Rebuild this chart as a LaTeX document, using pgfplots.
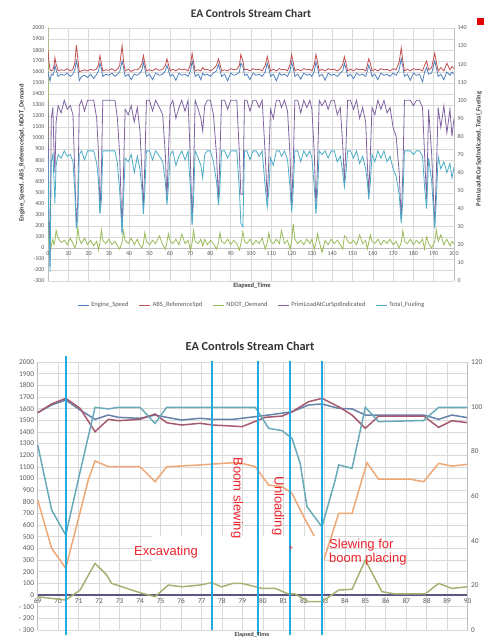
\documentclass[border=0pt]{standalone}
\usepackage{pgfplots}
\pgfplotsset{compat=1.18}
\usepackage{pgfplotstable}
\usepackage{fontspec}
\setmainfont{Carlito}
\newfontfamily\arialf{Liberation Sans}
\definecolor{cES}{HTML}{4F81BD}
\definecolor{cABS}{HTML}{C0504D}
\definecolor{cND}{HTML}{9BBB59}
\definecolor{cPL}{HTML}{8064A2}
\definecolor{cTF}{HTML}{4BACC6}
\definecolor{gridc}{HTML}{D9D9D9}
\definecolor{axc}{HTML}{BFBFBF}
\definecolor{tickc}{HTML}{595959}
\definecolor{bMauve}{RGB}{165,90,112}
\definecolor{bBlue}{RGB}{100,130,170}
\definecolor{bTeal}{RGB}{105,170,185}
\definecolor{bOrange}{RGB}{238,168,118}
\definecolor{bOlive}{RGB}{165,178,115}
\definecolor{bZero}{RGB}{95,85,130}
\definecolor{vline}{RGB}{35,170,225}
\definecolor{annot}{RGB}{235,35,45}

\pgfplotstableread{
t es abs nd pl tf
0 1600 1800 2100 100 72
0.4 1560 1700 80 40 30
1.0 1520 1620 -40 8 5
1.6 1580 1610 20 90 66
2.4 1570 1620 80 96 70
3.0 1600 1660 30 70 55
3.4 1660 1730 60 60 43
4.0 1620 1670 160 88 64
5.0 1560 1610 90 97 70
6.5 1580 1620 50 93 68
8.0 1570 1615 70 100 72
9.5 1590 1630 30 95 69
11.0 1560 1610 90 97 70
12.3 1580 1625 40 92 66
13.2 1620 1680 0 60 50
14.0 1700 1845 40 30 29
14.7 1640 1720 190 45 35
15.4 1520 1600 80 97 70
16.5 1560 1610 40 100 72
18.0 1570 1620 90 94 67
19.5 1550 1610 30 100 72
21.0 1580 1625 70 100 72
22.5 1540 1615 20 100 72
24.0 1580 1630 60 90 65
24.9 1610 1670 -20 70 55
25.6 1680 1750 50 38 37
26.3 1630 1680 165 60 45
27.0 1560 1610 70 100 72
28.5 1580 1620 40 100 72
30.0 1570 1615 80 100 72
31.5 1590 1630 30 100 72
33.0 1560 1610 60 100 72
34.2 1580 1625 20 90 65
35.3 1600 1660 -10 70 50
36.5 1700 1840 50 27 26
37.2 1640 1700 150 60 45
38.0 1560 1610 70 95 68
39.5 1580 1625 40 92 66
41.0 1530 1605 90 97 70
42.5 1580 1620 30 88 60
44.0 1570 1620 80 96 69
45.3 1590 1640 20 83 62
46.3 1620 1680 0 60 50
47.0 1690 1750 40 40 37
47.7 1630 1680 140 65 50
48.5 1560 1610 60 100 72
50.0 1580 1620 30 100 72
51.5 1530 1610 70 94 67
53.0 1590 1630 40 100 72
54.9 1570 1615 110 96 69
56.5 1580 1625 30 92 66
57.8 1610 1660 -10 70 55
58.6 1660 1720 50 45 42
59.3 1620 1670 130 70 52
60.2 1560 1610 60 97 70
61.5 1580 1625 40 100 72
63.0 1525 1610 80 90 64
64.5 1590 1630 30 96 69
65.9 1570 1620 125 100 72
67.5 1580 1625 40 94 67
69.0 1560 1610 70 100 72
70.2 1610 1670 -20 65 50
71.0 1700 1770 50 32 31
71.7 1640 1690 160 60 45
72.5 1560 1610 60 100 72
74.0 1580 1620 40 95 68
75.3 1530 1610 80 90 64
76.2 1590 1640 20 83 57
77.2 1570 1620 80 97 70
78.5 1580 1625 30 100 72
80.0 1560 1610 70 100 72
81.5 1590 1630 40 92 66
83.0 1610 1660 -10 70 55
84.0 1670 1720 50 44 42
84.7 1620 1670 140 70 52
85.5 1560 1610 60 100 72
87.0 1580 1620 40 100 72
88.5 1520 1610 80 95 68
90.0 1590 1630 30 100 72
91.5 1570 1620 70 100 72
93.0 1580 1625 40 100 72
94.3 1600 1660 -20 70 50
95.0 1680 1760 40 48 32
96.0 1650 1700 150 48 30
96.8 1570 1620 60 100 72
98.0 1580 1625 40 100 72
99.5 1530 1610 80 94 67
101.0 1590 1630 30 100 72
102.5 1570 1620 70 100 72
104.0 1580 1625 40 96 69
105.5 1560 1610 90 100 72
107.0 1600 1660 -10 70 52
108.0 1680 1740 50 45 41
108.8 1630 1680 140 68 50
109.6 1560 1610 60 95 68
111.0 1580 1625 40 90 64
112.5 1520 1610 80 100 72
114.0 1590 1630 40 100 72
115.0 1570 1620 160 96 69
116.5 1580 1625 40 100 72
118.0 1560 1610 70 94 67
119.2 1610 1670 -10 70 52
120.0 1690 1760 60 40 38
120.8 1640 1690 220 65 50
121.6 1560 1610 80 100 72
123.0 1580 1625 40 100 72
124.5 1535 1610 70 93 66
126.0 1590 1630 30 100 72
127.5 1570 1620 80 96 69
129.0 1580 1625 40 100 72
130.0 1560 1610 80 95 68
131.2 1610 1670 -10 70 52
132.0 1690 1760 50 40 37
132.8 1640 1690 130 65 50
133.6 1560 1610 60 100 72
135.0 1580 1625 -40 97 70
136.5 1525 1610 70 100 72
138.0 1590 1630 30 95 68
139.5 1570 1620 80 100 72
141.0 1580 1625 40 100 72
142.5 1560 1610 70 92 66
144.0 1590 1630 30 96 69
145.2 1610 1670 -10 75 60
146.0 1680 1740 110 55 52
146.8 1630 1680 100 75 60
147.6 1560 1610 60 100 72
149.0 1580 1625 40 100 72
150.5 1540 1610 70 95 68
152.0 1590 1630 30 100 72
153.5 1570 1620 120 90 65
155.0 1580 1625 40 96 69
156.5 1560 1610 70 88 62
157.3 1610 1660 -10 65 55
158.0 1660 1720 50 48 45
158.8 1620 1680 120 70 55
159.6 1560 1610 60 96 70
161.0 1580 1625 40 92 66
162.5 1530 1610 80 100 72
164.0 1590 1630 30 95 68
165.5 1570 1620 70 100 72
167.0 1580 1625 40 93 66
168.5 1560 1610 80 96 69
170.0 1590 1630 30 85 62
171.5 1570 1620 60 80 58
173.0 1620 1690 0 60 48
174.0 1720 1820 50 34 32
174.8 1650 1700 160 60 45
175.6 1560 1610 60 100 72
177.0 1580 1625 40 100 72
178.5 1525 1610 80 100 72
180.0 1590 1630 30 97 70
181.5 1570 1620 70 100 72
183.0 1580 1625 40 100 72
184.5 1510 1610 80 96 69
185.5 1600 1660 -10 70 52
186.5 1640 1700 100 45 40
187.5 1580 1620 40 95 68
189.0 1590 1640 0 70 55
190.5 1700 1770 60 30 29
191.3 1640 1690 165 60 45
192.2 1560 1610 60 96 69
193.5 1580 1640 120 85 62
195.0 1530 1610 30 97 66
196.5 1600 1680 80 82 60
198.0 1570 1620 20 95 65
199.0 1600 1650 60 80 57
200.0 1580 1630 40 90 63
}\topdata

\begin{document}
\begin{tikzpicture}[x=1pt,y=1pt]
\path[use as bounding box] (0,0) rectangle (484,637);

% ===================== TOP CHART =====================
\begin{axis}[
  at={(48pt,356pt)}, anchor=south west,
  scale only axis, width=406pt, height=253pt,
  xmin=0, xmax=200, ymin=-300, ymax=2000,
  axis x line*=middle, axis y line*=left,
  hide obscured x ticks=false, hide obscured y ticks=false,
  xtick={0,10,...,200}, ytick={-300,-200,...,2000},
  grid=major, grid style={gridc, line width=0.5pt},
  axis line style={axc, line width=0.5pt},
  tick style={draw=none},
  ticklabel style={font=\fontsize{6}{7}\selectfont, text=tickc},
  /pgf/number format/assume math mode=true,
  /pgf/number format/1000 sep={},
]
\addplot[cND, line width=0.8pt] table[x=t,y=nd]{\topdata};
\addplot[cES, line width=0.8pt] table[x=t,y=es]{\topdata};
\addplot[cABS, line width=0.8pt] table[x=t,y=abs]{\topdata};
\end{axis}

\begin{axis}[
  at={(48pt,356pt)}, anchor=south west,
  scale only axis, width=406pt, height=253pt,
  xmin=0, xmax=200, ymin=0, ymax=140,
  axis x line=none, axis y line*=right,
  ytick={0,10,...,140},
  axis line style={axc, line width=0.5pt},
  tick style={draw=none},
  ticklabel style={font=\fontsize{6}{7}\selectfont, text=tickc},
  /pgf/number format/assume math mode=true,
  legend style={at={(0.502,-0.095)}, anchor=center, draw=none, fill=none,
    font=\fontsize{6.5}{7}\selectfont, text=tickc, legend columns=5,
    /tikz/every even column/.append style={column sep=8pt}},
  legend image code/.code={\draw[#1] (0pt,0pt) -- (11pt,0pt);},
]
\addlegendimage{cES, line width=1pt}\addlegendentry{Engine\_Speed}
\addlegendimage{cABS, line width=1pt}\addlegendentry{ABS\_ReferenceSpd}
\addlegendimage{cND, line width=1pt}\addlegendentry{NDOT\_Demand}
\addplot[cPL, line width=0.8pt] table[x=t,y=pl]{\topdata};
\addlegendentry{PrimLoadAtCurSpdIndicated}
\addplot[cTF, line width=0.8pt] table[x=t,y=tf]{\topdata};
\addlegendentry{Total\_Fueling}
\end{axis}

\node[font=\bfseries\fontsize{11.5}{13}\selectfont, text=black!80] at (251,623) {EA Controls Stream Chart};
\node[font=\bfseries\fontsize{6.5}{7}\selectfont, text=black!75, rotate=90] at (22,484) {Engine\_Speed, ABS\_ReferenceSpd, NDOT\_Demand};
\node[font=\bfseries\fontsize{6.5}{7}\selectfont, text=black!75, rotate=90] at (479,488) {PrimLoadAtCurSpdIndicated, Total\_Fueling};
\node[font=\bfseries\fontsize{6.5}{7}\selectfont, text=black!75] at (252,351) {Elapsed\_Time};
\fill[red!90!black] (477,612) rectangle (484,619);

% ===================== BOTTOM CHART =====================
\begin{axis}[
  at={(37.7pt,7pt)}, anchor=south west,
  scale only axis, width=430pt, height=268pt,
  xmin=69, xmax=90, ymin=-300, ymax=2000,
  axis x line*=middle, axis y line*=left,
  hide obscured x ticks=false, hide obscured y ticks=false,
  xtick={69,70,...,90}, ytick={-300,-200,...,2000},
  yticklabels={- 300,- 200,- 100,0,100,200,300,400,500,600,700,800,900,1000,1100,1200,1300,1400,1500,1600,1700,1800,1900,2000},
  grid=major, grid style={gridc, line width=0.6pt},
  axis line style={axc, line width=0.5pt},
  x axis line style={bZero, line width=1.6pt},
  tick style={draw=none},
  ticklabel style={font=\fontsize{7.4}{8}\selectfont, text=tickc},
  /pgf/number format/assume math mode=true,
  /pgf/number format/1000 sep={},
]
\addplot[bOlive, line width=1.5pt] coordinates {(69,-15) (70.37,-43) (71.07,43) (71.8,272) (72.37,172) (72.61,100) (73.35,57) (74.0,20) (74.73,-14) (75.38,86) (76.03,71) (76.92,86) (77.50,106) (77.98,71) (78.55,100) (78.98,100) (79.95,57) (80.60,57) (81.25,9) (81.57,9) (82.22,-57) (82.88,-57) (83.70,43) (84.35,49) (85.0,300) (85.81,29) (86.46,9) (87.92,9) (88.58,100) (89.23,57) (90,71)};
\addplot[bBlue, line width=1.5pt] coordinates {(69,1565) (69.68,1631) (70.37,1674) (71.07,1588) (71.8,1508) (72.45,1545) (72.94,1525) (74.0,1517) (74.73,1545) (75.3,1525) (76.03,1502) (76.92,1517) (77.56,1508) (78.54,1508) (78.98,1517) (80.28,1545) (81.42,1573) (82.23,1631) (82.88,1640) (83.70,1602) (84.35,1597) (85.0,1545) (85.65,1545) (87.85,1545) (88.58,1508) (89.23,1545) (90,1522)};
\addplot[bMauve, line width=1.5pt] coordinates {(69,1565) (69.68,1640) (70.37,1688) (71.07,1602) (71.8,1402) (72.45,1508) (72.94,1496) (74.0,1508) (74.73,1554) (75.3,1479) (76.03,1459) (76.92,1474) (77.56,1459) (78.54,1450) (78.98,1445) (80.11,1525) (80.93,1536) (81.42,1573) (82.23,1659) (82.88,1688) (83.70,1616) (84.35,1545) (85.0,1431) (85.65,1536) (87.85,1536) (88.58,1439) (89.23,1496) (90,1479)};
\end{axis}

\begin{axis}[
  at={(37.7pt,7pt)}, anchor=south west,
  scale only axis, width=430pt, height=268pt,
  xmin=69, xmax=90, ymin=0, ymax=120,
  axis x line=none, axis y line*=right,
  ytick={0,20,...,120},
  axis line style={axc, line width=0.5pt},
  tick style={draw=none},
  ticklabel style={font=\fontsize{7.4}{8}\selectfont, text=tickc},
  /pgf/number format/assume math mode=true,
  clip=false,
]
\addplot[bOrange, line width=1.5pt] coordinates {(69,58.2) (69.68,36.6) (70.37,27.6) (71.47,67.2) (71.8,75.7) (72.45,73.1) (74.0,73.1) (74.73,66.4) (75.3,73.1) (76.92,73.9) (77.56,74.3) (78.54,74.9) (78.98,74.6) (79.63,73.1) (80.28,64.9) (80.93,64.2) (81.42,61.2) (81.99,50.7) (82.48,42.5) (82.97,31.3) (83.70,52.2) (84.35,52.2) (85.08,74.9) (85.65,67.5) (87.2,67.5) (87.85,66.4) (88.58,74.6) (89.23,73.4) (90,74.2)};
\addplot[bTeal, line width=1.5pt] coordinates {(69,82.9) (69.68,53.8) (70.37,42.5) (70.98,67.2) (71.8,99.7) (72.45,99.0) (72.94,99.7) (74.0,99.7) (74.73,92.5) (75.3,99.7) (79.63,99.7) (80.28,90.3) (80.93,89.3) (81.42,85.8) (81.82,74.6) (82.15,55.2) (82.88,46.2) (83.53,67.2) (83.70,73.9) (84.35,72.4) (85.0,99.7) (85.65,93.3) (87.85,93.8) (88.58,99.7) (90,99.7)};
\fill[white] (axis cs:74.58,26.9) rectangle (axis cs:82.98,42.1);
\addplot[vline, line width=2.6pt] coordinates {(70.38,-2.2) (70.38,122.7)};
\addplot[vline, line width=2.6pt] coordinates {(77.51,0) (77.51,120.5)};
\addplot[vline, line width=2.6pt] coordinates {(79.76,-2.2) (79.76,120.6)};
\addplot[vline, line width=2.6pt] coordinates {(81.32,-2.2) (81.32,120.6)};
\addplot[vline, line width=2.6pt] coordinates {(82.88,-2.2) (82.88,120.6)};
\end{axis}

\node[font=\bfseries\fontsize{12.3}{14}\selectfont, text=black!80] at (250,291) {EA Controls Stream Chart};
\node[font=\bfseries\fontsize{6}{7}\selectfont, text=black!75] at (252,2) {Elapsed\_Time};

\node[font=\arialf\fontsize{13}{14}\selectfont, text=annot] at (166,85) {Excavating};
\node[font=\arialf\fontsize{13}{14}\selectfont, text=annot, rotate=-90] at (237,139) {Boom slewing};
\node[font=\arialf\fontsize{13}{14}\selectfont, text=annot, rotate=-90] at (278,131) {Unloading};
\node[font=\arialf\fontsize{13}{13.5}\selectfont, text=annot, align=left, anchor=north west, inner sep=0pt] at (329,98) {Slewing for\\boom placing};
\node[font=\arialf\fontsize{8}{9}\selectfont, text=annot] at (291,89) {+};
\end{tikzpicture}
\end{document}
